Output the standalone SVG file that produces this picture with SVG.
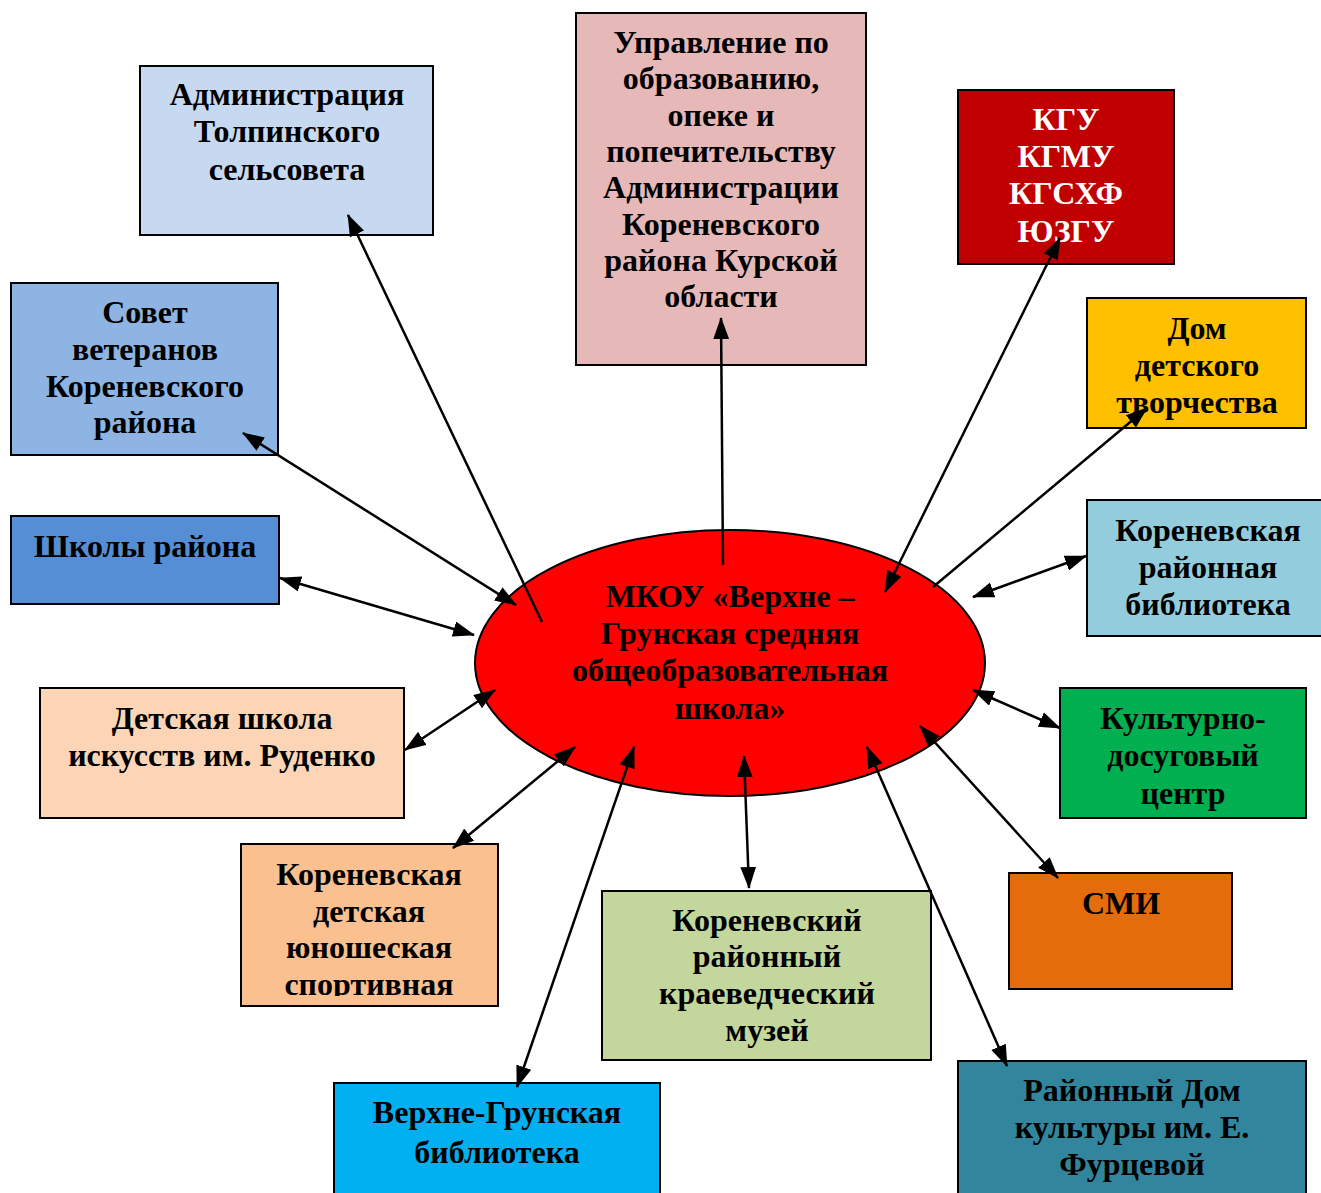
<svg xmlns="http://www.w3.org/2000/svg" width="1321" height="1193" viewBox="0 0 1321 1193">
<style>
.b{stroke:#000;stroke-width:2}
.t{font-family:"Liberation Serif","Times New Roman",serif;font-weight:bold;font-size:32px;fill:#000;text-anchor:middle}
.w{fill:#fff}
.c line{stroke:#000;stroke-width:2.5;fill:none}
.bi{marker-start:url(#ah);marker-end:url(#ah)}
.one{marker-end:url(#ah)}
</style>
<defs>
<marker id="ah" markerUnits="userSpaceOnUse" markerWidth="22" markerHeight="16" refX="20" refY="7.5" orient="auto-start-reverse" viewBox="0 0 21 15">
<path d="M0,0 L21,7.5 L0,15 z" fill="#000"/>
</marker>
<clipPath id="clipSport"><rect x="241" y="844" width="257" height="152"/></clipPath>
</defs>
<rect width="1321" height="1193" fill="#fff"/>

<g id="n-adm">
<rect class="b" x="140" y="66" width="293" height="169" fill="#C6D9F1"/>
<text class="t" x="287" y="105">Администрация</text>
<text class="t" x="287" y="142">Толпинского</text>
<text class="t" x="287" y="180">сельсовета</text>
</g>
<g id="n-upr">
<rect class="b" x="576" y="13" width="290" height="352" fill="#E6B9B8"/>
<text class="t" x="721" y="53">Управление по</text>
<text class="t" x="721" y="89">образованию,</text>
<text class="t" x="721" y="126">опеке и</text>
<text class="t" x="721" y="162">попечительству</text>
<text class="t" x="721" y="198">Администрации</text>
<text class="t" x="721" y="235">Кореневского</text>
<text class="t" x="721" y="271">района Курской</text>
<text class="t" x="721" y="307">области</text>
</g>
<g id="n-kgu">
<rect class="b" x="958" y="90" width="216" height="174" fill="#C00000"/>
<text class="t w" x="1066" y="130">КГУ</text>
<text class="t w" x="1066" y="167">КГМУ</text>
<text class="t w" x="1066" y="204">КГСХФ</text>
<text class="t w" x="1066" y="242">ЮЗГУ</text>
</g>
<g id="n-ddt">
<rect class="b" x="1087" y="298" width="219" height="130" fill="#FFC000"/>
<text class="t" x="1197" y="339">Дом</text>
<text class="t" x="1197" y="376">детского</text>
<text class="t" x="1197" y="413">творчества</text>
</g>
<g id="n-sovet">
<rect class="b" x="11" y="283" width="267" height="172" fill="#8EB4E3"/>
<text class="t" x="145" y="323">Совет</text>
<text class="t" x="145" y="360">ветеранов</text>
<text class="t" x="145" y="397">Кореневского</text>
<text class="t" x="145" y="433">района</text>
</g>
<g id="n-shkoly">
<rect class="b" x="11" y="516" width="268" height="88" fill="#558ED5"/>
<text class="t" x="145" y="557">Школы района</text>
</g>
<g id="n-bibl">
<rect class="b" x="1087" y="500" width="236" height="136" fill="#93CDDD"/>
<text class="t" x="1208" y="541">Кореневская</text>
<text class="t" x="1208" y="578">районная</text>
<text class="t" x="1208" y="615">библиотека</text>
</g>
<g id="n-dshi">
<rect class="b" x="40" y="688" width="364" height="130" fill="#FBD5B5"/>
<text class="t" x="222" y="729">Детская школа</text>
<text class="t" x="222" y="766">искусств им. Руденко</text>
</g>
<g id="n-kdc">
<rect class="b" x="1060" y="688" width="246" height="130" fill="#00B050"/>
<text class="t" x="1183" y="729">Культурно-</text>
<text class="t" x="1183" y="766">досуговый</text>
<text class="t" x="1183" y="804">центр</text>
</g>
<g id="n-sport">
<rect class="b" x="241" y="844" width="257" height="162" fill="#FAC090"/>
<g clip-path="url(#clipSport)">
<text class="t" x="369" y="885">Кореневская</text>
<text class="t" x="369" y="922">детская</text>
<text class="t" x="369" y="958">юношеская</text>
<text class="t" x="369" y="995">спортивная</text>
</g>
</g>
<g id="n-smi">
<rect class="b" x="1009" y="873" width="223" height="116" fill="#E46C0A"/>
<text class="t" x="1121" y="914">СМИ</text>
</g>
<g id="n-muzey">
<rect class="b" x="602" y="891" width="329" height="169" fill="#C3D69B"/>
<text class="t" x="767" y="931">Кореневский</text>
<text class="t" x="767" y="967">районный</text>
<text class="t" x="767" y="1004">краеведческий</text>
<text class="t" x="767" y="1041">музей</text>
</g>
<g id="n-vgbibl">
<rect class="b" x="334" y="1083" width="326" height="112" fill="#00B0F0"/>
<text class="t" x="497" y="1123">Верхне-Грунская</text>
<text class="t" x="497" y="1163">библиотека</text>
</g>
<g id="n-rdk">
<rect class="b" x="958" y="1061" width="348" height="134" fill="#31859C"/>
<text class="t" x="1132" y="1101">Районный Дом</text>
<text class="t" x="1132" y="1138">культуры им. Е.</text>
<text class="t" x="1132" y="1175">Фурцевой</text>
</g>

<g id="n-center">
<ellipse class="b" cx="730" cy="663" rx="255" ry="133" fill="#FF0000"/>
<text class="t" x="730" y="607">МКОУ «Верхне –</text>
<text class="t" x="730" y="644">Грунская средняя</text>
<text class="t" x="730" y="681">общеобразовательная</text>
<text class="t" x="730" y="719">школа»</text>
</g>

<g id="connectors" class="c">
<line class="one" x1="542" y1="622" x2="348" y2="215"/>
<line class="bi" x1="516" y1="605" x2="243" y2="433"/>
<line class="bi" x1="474" y1="635" x2="280" y2="578"/>
<line class="bi" x1="495" y1="690" x2="405" y2="750"/>
<line class="bi" x1="575" y1="747" x2="453" y2="848"/>
<line class="bi" x1="634" y1="747" x2="517" y2="1087"/>
<line class="bi" x1="744" y1="756" x2="749" y2="888"/>
<line class="bi" x1="867" y1="747" x2="1007" y2="1066"/>
<line class="bi" x1="920" y1="726" x2="1058" y2="878"/>
<line class="bi" x1="973" y1="690" x2="1060" y2="728"/>
<line class="bi" x1="973" y1="597" x2="1086" y2="556"/>
<line class="one" x1="933" y1="587" x2="1147" y2="408"/>
<line class="bi" x1="885" y1="592" x2="1060" y2="238"/>
<line class="one" x1="723" y1="565" x2="721" y2="318"/>
</g>
</svg>
